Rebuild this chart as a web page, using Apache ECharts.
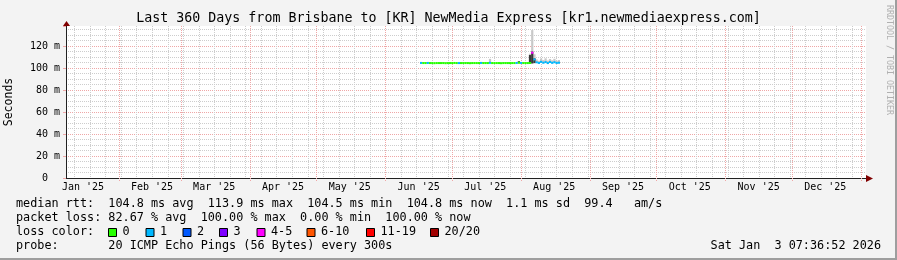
<!DOCTYPE html>
<html>
<head>
<meta charset="utf-8">
<script src="https://cdn.jsdelivr.net/npm/echarts@6/dist/echarts.min.js"></script>
<style>
html,body{margin:0;padding:0;background:#f3f3f3;}
#c{width:897px;height:260px;}
</style>
</head>
<body>
<div id="c"></div>
<script>
// ---------- text ----------
const titleText = "Last 360 Days from Brisbane to [KR] NewMedia Express [kr1.newmediaexpress.com]";
const yAxisTitle = "Seconds";
const watermark = "RRDTOOL / TOBI OETIKER";
const statRows = [
  "median rtt:  104.8 ms avg  113.9 ms max  104.5 ms min  104.8 ms now  1.1 ms sd  99.4   am/s",
  "packet loss: 82.67 % avg  100.00 % max  0.00 % min  100.00 % now",
  "loss color:",
  "probe:       20 ICMP Echo Pings (56 Bytes) every 300s"
];
const stampText = "Sat Jan  3 07:36:52 2026";

// ---------- axes ----------
const rangeStart = "2025-01-08T07:36:52Z";
const rangeEnd   = "2026-01-03T07:36:52Z";
const monthLabels = ["Jan '25","Feb '25","Mar '25","Apr '25","May '25","Jun '25","Jul '25","Aug '25","Sep '25","Oct '25","Nov '25","Dec '25"];
const monthLabelMonths = ["2025-01-01","2025-02-01","2025-03-01","2025-04-01","2025-05-01","2025-06-01","2025-07-01","2025-08-01","2025-09-01","2025-10-01","2025-11-01","2025-12-01"];
const majorGridDates = ["2025-02-01","2025-03-01","2025-04-01","2025-05-01","2025-06-01","2025-07-01","2025-08-01","2025-09-01","2025-10-01","2025-11-01","2025-12-01","2026-01-01"];
const firstWeekLine = "2025-01-12"; // weekly minor grid (Sundays)
const yMaxMs = 138.2;

// ---------- loss legend ----------
const lossLabels = ["0","1","2","3","4-5","6-10","11-19","20/20"];
const lossColors = ["#26ff00","#00b8ff","#0059ff","#7e00ff","#ff00ff","#ff5500","#ff0000","#a10000"];

// ---------- data: daily buckets starting at bucketStart ----------
const bucketStart = "2025-06-16T15:00:00Z";
const medianMs = [
  104.6,104.5,104.5,104.6,104.5,104.5,104.4,104.5,104.5,104.5,
  104.5,104.4,104.5,104.5,104.5,104.6,104.5,104.5,104.5,104.5,
  104.5,104.5,104.4,104.5,104.5,104.5,104.5,104.6,104.5,104.5,
  104.5,104.7,104.5,104.5,104.5,104.5,104.4,104.5,104.5,104.5,
  104.5,104.5,104.5,104.6,104.8,104.6,104.5,104.5,104.5,104.6,
  113.9,107.8,105.2,104.6,105.6,104.8,105.4,104.5,105.5,104.7,
  105.3,104.6,104.8
];
const lossCount = [
  1,0,0,1,0,0,0,0,0,0,
  0,0,0,0,0,0,0,1,0,0,
  0,0,0,0,0,0,0,1,0,0,
  0,1,0,0,0,0,0,0,0,0,
  0,0,0,1,0,1,0,0,0,0,
  5,1,1,1,1,1,1,1,1,1,
  1,1,1
];
const smokeLoMs = [
  null,null,null,null,null,null,null,null,null,null,
  null,null,null,null,null,null,null,null,null,null,
  null,null,null,null,null,null,null,null,null,null,
  null,104.2,null,null,null,null,null,null,null,null,
  null,null,null,null,null,null,null,null,null,104.0,
  103.8,104.3,104.6,104.1,104.9,104.3,104.8,104.0,104.9,104.2,
  104.7,104.1,104.3
];
const smokeHiMs = [
  null,null,null,null,null,null,null,null,null,null,
  null,null,null,null,null,null,null,null,null,null,
  null,null,null,null,null,null,null,null,null,null,
  null,108.3,null,null,null,null,null,null,null,null,
  null,null,null,null,null,null,null,null,null,113.0,
  134.5,112.5,107.8,106.6,108.6,107.2,108.8,106.8,108.2,107.0,
  108.4,106.5,107.3
];
const coreLoMs = [
  null,null,null,null,null,null,null,null,null,null,
  null,null,null,null,null,null,null,null,null,null,
  null,null,null,null,null,null,null,null,null,null,
  null,null,null,null,null,null,null,null,null,null,
  null,null,null,null,104.4,null,null,null,null,104.3,
  104.2,104.5,null,null,null,null,null,null,null,null,
  null,null,null
];
const coreHiMs = [
  null,null,null,null,null,null,null,null,null,null,
  null,null,null,null,null,null,null,null,null,null,
  null,null,null,null,null,null,null,null,null,null,
  null,null,null,null,null,null,null,null,null,null,
  null,null,null,null,106.2,null,null,null,null,111.8,
  115.0,108.8,null,null,null,null,null,null,null,null,
  null,null,null
];

// ---------- build ----------
const DAY = 86400000;
const FONT = "DejaVu Sans Mono";
const xMin = Date.parse(rangeStart), xMax = Date.parse(rangeEnd);
const t0 = Date.parse(bucketStart);
const bucketTimes = medianMs.map((_, i) => t0 + i * DAY);

const labelTimes = monthLabelMonths.map(d => Date.parse(d + "T00:00:00Z") + 15 * DAY);
const labelMap = {};
labelTimes.forEach((t, i) => { labelMap[t] = monthLabels[i]; });

const majorTimes = majorGridDates.map(d => Date.parse(d + "T00:00:00Z"));
const minorTimes = [];
for (let t = Date.parse(firstWeekLine + "T00:00:00Z"); t < xMax; t += 7 * DAY) {
  if (majorTimes.indexOf(t) < 0) minorTimes.push(t);
}

function lossIndex(n) {
  if (n <= 3) return n;
  if (n <= 5) return 4;
  if (n <= 10) return 5;
  if (n <= 19) return 6;
  return 7;
}

function vLineRender(color, below) {
  return function (params, api) {
    const t = api.value(0);
    const top = api.coord([t, yMaxMs]);
    const bot = api.coord([t, 0]);
    const x = Math.round(top[0]) + 0.5;
    return { type: 'line', silent: true,
      shape: { x1: x, y1: top[1], x2: x, y2: bot[1] + below },
      style: { stroke: color, lineWidth: 1, lineDash: [1, 1] } };
  };
}
function bandRender(fill) {
  return function (params, api) {
    const t = api.value(0);
    const p1 = api.coord([t, api.value(1)]);
    const p2 = api.coord([t + DAY, api.value(2)]);
    return { type: 'rect',
      shape: { x: p1[0], y: p2[1], width: p2[0] - p1[0], height: Math.max(1, p1[1] - p2[1]) },
      style: { fill: fill } };
  };
}
function bandData(lo, hi) {
  const out = [];
  lo.forEach((v, i) => { if (v != null && hi[i] != null) out.push([bucketTimes[i], v, hi[i]]); });
  return out;
}

const graphics = [
  { type: 'rect', shape: { x: 0, y: 258, width: 897, height: 2 }, style: { fill: '#9e9e9e' }, silent: true },
  { type: 'rect', shape: { x: 895, y: 0, width: 2, height: 260 }, style: { fill: '#9e9e9e' }, silent: true },
  { type: 'text', x: 448.5, y: 18.5, style: { text: titleText, fontFamily: FONT, fontSize: 13.3, fill: '#000', align: 'center', verticalAlign: 'middle' } },
  { type: 'text', x: 9.5, y: 102, rotation: Math.PI / 2, style: { text: yAxisTitle, fontFamily: FONT, fontSize: 11.5, fill: '#000', align: 'center', verticalAlign: 'middle' } },
  { type: 'text', x: 889, y: 5, rotation: -Math.PI / 2, style: { text: watermark, fontFamily: FONT, fontSize: 8.3, fill: '#b0b0b0', align: 'left', verticalAlign: 'middle' } },
  { type: 'polygon', shape: { points: [[63, 26], [70, 26], [66.5, 21]] }, style: { fill: '#800000' }, silent: true, z: 10 },
  { type: 'polygon', shape: { points: [[866, 175], [866, 182], [873, 178.5]] }, style: { fill: '#800000' }, silent: true, z: 10 },
  { type: 'text', x: 881, y: 246, style: { text: stampText, fontFamily: FONT, fontSize: 11.8, fill: '#000', align: 'right', verticalAlign: 'middle' } }
];
const rowY = [204, 218, 232, 246];
statRows.forEach((s, i) => {
  graphics.push({ type: 'text', x: 16, y: rowY[i], style: { text: s, fontFamily: FONT, fontSize: 11.8, fill: '#000', align: 'left', verticalAlign: 'middle' } });
});
const boxX = [108, 145.5, 182.5, 219, 256.5, 306.5, 366, 430];
lossLabels.forEach((lab, i) => {
  graphics.push({ type: 'rect', shape: { x: boxX[i] + 0.5, y: 228.5, width: 8, height: 8 }, style: { fill: lossColors[i], stroke: '#000', lineWidth: 1 } });
  graphics.push({ type: 'text', x: boxX[i] + 14.5, y: 232, style: { text: lab, fontFamily: FONT, fontSize: 11.8, fill: '#000', align: 'left', verticalAlign: 'middle' } });
});

const chart = echarts.init(document.getElementById('c'), null, { renderer: 'canvas', width: 897, height: 260 });
chart.setOption({
  animation: false,
  backgroundColor: '#f3f3f3',
  grid: { left: 66, right: 31, top: 26, bottom: 82, show: true, backgroundColor: '#ffffff', borderWidth: 0 },
  xAxis: {
    type: 'value', min: xMin, max: xMax,
    axisLine: { show: true, onZero: false, lineStyle: { color: '#212121', width: 1 } },
    axisTick: { show: false },
    splitLine: { show: false },
    axisLabel: {
      customValues: labelTimes,
      formatter: v => labelMap[v] || '',
      margin: 4, fontFamily: FONT, fontSize: 10, color: '#000', hideOverlap: false
    }
  },
  yAxis: [
    {
      type: 'value', min: 0, max: yMaxMs, interval: 5,
      axisLine: { show: false }, axisTick: { show: false }, axisLabel: { show: false },
      splitLine: { show: true, showMinLine: false, showMaxLine: false, lineStyle: { color: '#cdcdcd', width: 1, type: [1, 1] } }
    },
    {
      type: 'value', min: 0, max: yMaxMs, interval: 20, position: 'left',
      axisLine: { show: true, onZero: false, lineStyle: { color: '#212121', width: 1 } },
      axisTick: { show: true, length: 3, lineStyle: { color: '#efa7a7' } },
      axisLabel: {
        margin: 6, fontFamily: FONT, fontSize: 10, color: '#000',
        formatter: v => v === 0 ? '{z|0}' : (v % 20 === 0 ? v + ' m' : ''),
        rich: { z: { fontFamily: FONT, fontSize: 10, color: '#000', padding: [0, 12, 0, 0] } }
      },
      splitLine: { show: true, showMinLine: false, showMaxLine: false, lineStyle: { color: '#efa7a7', width: 1, type: [1, 1] } }
    }
  ],
  series: [
    { type: 'custom', name: 'weekGrid', yAxisIndex: 1, z: 1, silent: true,
      data: minorTimes.map(t => [t, 0]), renderItem: vLineRender('#cdcdcd', 0) },
    { type: 'custom', name: 'monthGrid', yAxisIndex: 1, z: 1, silent: true,
      data: majorTimes.map(t => [t, 0]), renderItem: vLineRender('#efa7a7', 3) },
    { type: 'custom', name: 'smoke', yAxisIndex: 1, z: 2, silent: true,
      encode: { x: 0, y: [1, 2] },
      data: bandData(smokeLoMs, smokeHiMs), renderItem: bandRender('#c8c8c8') },
    { type: 'custom', name: 'smokeCore', yAxisIndex: 1, z: 3, silent: true,
      encode: { x: 0, y: [1, 2] },
      data: bandData(coreLoMs, coreHiMs), renderItem: bandRender('#3a3a3a') },
    { type: 'custom', name: 'median rtt', yAxisIndex: 1, z: 4, silent: true,
      encode: { x: 0, y: 1 },
      data: medianMs.map((m, i) => [bucketTimes[i], m, lossCount[i]]),
      renderItem: function (params, api) {
        const t = api.value(0), m = api.value(1), loss = api.value(2);
        const p1 = api.coord([t, m]);
        const p2 = api.coord([t + DAY, m]);
        return { type: 'rect',
          shape: { x: p1[0], y: p1[1] - 1, width: p2[0] - p1[0], height: 2 },
          style: { fill: lossColors[lossIndex(loss)] } };
      }
    }
  ],
  graphic: graphics
});
</script>
</body>
</html>
